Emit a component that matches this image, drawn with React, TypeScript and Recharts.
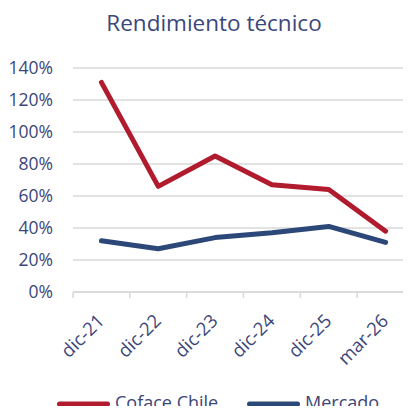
import React from 'react';
import { LineChart, Line, XAxis, YAxis, CartesianGrid } from 'recharts';

const categories = ['dic-21', 'dic-22', 'dic-23', 'dic-24', 'dic-25', 'mar-26'];
const cofaceChile = [131, 66, 85, 67, 64, 38];
const mercado = [32, 27, 34, 37, 41, 31];
const yTicks = [0, 20, 40, 60, 80, 100, 120, 140];

const seriesNames = ['Coface Chile', 'Mercado'];
const seriesColors = ['#B01B2E', '#2C4879'];
const textColor = '#3B4679';
const fontFamily = "'Open Sans', sans-serif";

const data = categories.map((cat, i) => ({
  cat,
  coface: cofaceChile[i],
  mercado: mercado[i],
}));

// plot width / number of bands, used to put tick marks on band boundaries
const bandWidth = (411 + 3 - 73) / categories.length;

const XTick = (props: any) => {
  const { x, y, payload } = props;
  const tx = x + 4;
  const ty = y + 30;
  return (
    <g>
      <line x1={x - bandWidth / 2} y1={y} x2={x - bandWidth / 2} y2={y + 6} stroke="#d9d9d9" strokeWidth={1.5} />
      <text
        x={tx}
        y={ty}
        textAnchor="end"
        fill={textColor}
        fontSize={18.5}
        fontFamily={fontFamily}
        transform={`rotate(-45, ${tx}, ${ty})`}
      >
        {payload.value}
      </text>
    </g>
  );
};

const legendItems = [
  { x: 57, textX: 115 },
  { x: 247, textX: 305 },
];

const App: React.FC = () => {
  return (
    <div style={{ position: 'relative', width: 411, height: 414, margin: -8, background: '#fff', fontFamily }}>
      <LineChart width={411} height={414} data={data} margin={{ top: 68, right: -3, left: 0, bottom: 0 }}>
        <text x={214} y={31} textAnchor="middle" fill={textColor} fontSize={22.5} fontFamily={fontFamily}>
          Rendimiento técnico
        </text>
        <CartesianGrid vertical={false} stroke="#d9d9d9" strokeWidth={1.5} />
        <XAxis
          dataKey="cat"
          scale="band"
          height={122}
          interval={0}
          tickLine={false}
          tickSize={0}
          tickMargin={0}
          axisLine={{ stroke: '#d9d9d9', strokeWidth: 1.5 }}
          tick={<XTick />}
        />
        <YAxis
          width={73}
          domain={[0, 140]}
          ticks={yTicks}
          interval={0}
          axisLine={false}
          tickLine={false}
          tickSize={6}
          tickMargin={14}
          tickFormatter={(v) => `${v}%`}
          tick={{ fill: textColor, fontSize: 17.5, fontFamily }}
        />
        <Line
          dataKey="coface"
          name={seriesNames[0]}
          stroke={seriesColors[0]}
          strokeWidth={5}
          strokeLinecap="round"
          strokeLinejoin="round"
          dot={false}
          isAnimationActive={false}
        />
        <Line
          dataKey="mercado"
          name={seriesNames[1]}
          stroke={seriesColors[1]}
          strokeWidth={5}
          strokeLinecap="round"
          strokeLinejoin="round"
          dot={false}
          isAnimationActive={false}
        />
        {/* legend */}
        {seriesNames.map((name, i) => (
          <g key={name}>
            <line
              x1={legendItems[i].x + 2.5}
              y1={404}
              x2={legendItems[i].x + 53 - 2.5}
              y2={404}
              stroke={seriesColors[i]}
              strokeWidth={5}
              strokeLinecap="round"
            />
            <text x={legendItems[i].textX} y={409} fill={textColor} fontSize={18} fontFamily={fontFamily}>
              {name}
            </text>
          </g>
        ))}
      </LineChart>
    </div>
  );
};

export default App;
